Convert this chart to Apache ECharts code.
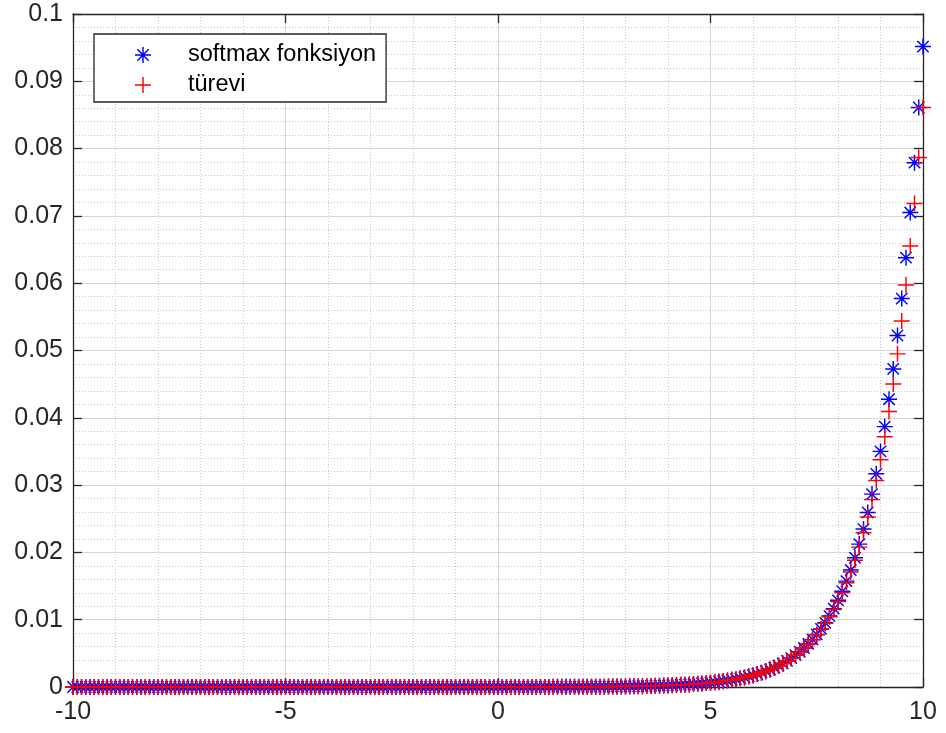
<!DOCTYPE html>
<html>
<head>
<meta charset="utf-8">
<script src="https://cdn.jsdelivr.net/npm/echarts@6/dist/echarts.min.js"></script>
<style>
html,body{margin:0;padding:0;background:#fff;}
#chart{width:946px;height:733px;}
</style>
</head>
<body>
<div id="chart"></div>
<script>
// x values (-10 .. 10, step 0.1)
var xValues = [
-10,-9.9,-9.8,-9.7,-9.6,-9.5,-9.4,-9.3,-9.2,-9.1,
-9,-8.9,-8.8,-8.7,-8.6,-8.5,-8.4,-8.3,-8.2,-8.1,
-8,-7.9,-7.8,-7.7,-7.6,-7.5,-7.4,-7.3,-7.2,-7.1,
-7,-6.9,-6.8,-6.7,-6.6,-6.5,-6.4,-6.3,-6.2,-6.1,
-6,-5.9,-5.8,-5.7,-5.6,-5.5,-5.4,-5.3,-5.2,-5.1,
-5,-4.9,-4.8,-4.7,-4.6,-4.5,-4.4,-4.3,-4.2,-4.1,
-4,-3.9,-3.8,-3.7,-3.6,-3.5,-3.4,-3.3,-3.2,-3.1,
-3,-2.9,-2.8,-2.7,-2.6,-2.5,-2.4,-2.3,-2.2,-2.1,
-2,-1.9,-1.8,-1.7,-1.6,-1.5,-1.4,-1.3,-1.2,-1.1,
-1,-0.9,-0.8,-0.7,-0.6,-0.5,-0.4,-0.3,-0.2,-0.1,
0,0.1,0.2,0.3,0.4,0.5,0.6,0.7,0.8,0.9,
1,1.1,1.2,1.3,1.4,1.5,1.6,1.7,1.8,1.9,
2,2.1,2.2,2.3,2.4,2.5,2.6,2.7,2.8,2.9,
3,3.1,3.2,3.3,3.4,3.5,3.6,3.7,3.8,3.9,
4,4.1,4.2,4.3,4.4,4.5,4.6,4.7,4.8,4.9,
5,5.1,5.2,5.3,5.4,5.5,5.6,5.7,5.8,5.9,
6,6.1,6.2,6.3,6.4,6.5,6.6,6.7,6.8,6.9,
7,7.1,7.2,7.3,7.4,7.5,7.6,7.7,7.8,7.9,
8,8.1,8.2,8.3,8.4,8.5,8.6,8.7,8.8,8.9,
9,9.1,9.2,9.3,9.4,9.5,9.6,9.7,9.8,9.9,
10
];

// softmax fonksiyon values
var softmaxValues = [
0,0,0,0,0,0,0,0,0,0,
0,0,0,0,0,0,0,0,0,0,
0,0,0,0,0,0,0,0,0,0,
0,0,0,0,0,0,0,0,0,0,
0,0,0,0,0,0,0,0,0,0,
0,0,0,0,0,0,0,0,0,0,
0,0,0,0,0,0,0,0,0,0,
0,0,0,0,0,0,0,0,0,0,
0,0,0,0,0,0,0,0,0,0,
0,0,0,0,0,0,0,0,0,0,
0,0,0.00001,0.00001,0.00001,0.00001,0.00001,0.00001,0.00001,0.00001,
0.00001,0.00001,0.00001,0.00002,0.00002,0.00002,0.00002,0.00002,0.00003,0.00003,
0.00003,0.00004,0.00004,0.00004,0.00005,0.00005,0.00006,0.00006,0.00007,0.00008,
0.00009,0.00010,0.00011,0.00012,0.00013,0.00014,0.00016,0.00017,0.00019,0.00021,
0.00024,0.00026,0.00029,0.00032,0.00035,0.00039,0.00043,0.00048,0.00053,0.00058,
0.00064,0.00071,0.00078,0.00087,0.00096,0.00106,0.00117,0.00129,0.00143,0.00158,
0.00174,0.00193,0.00213,0.00235,0.00260,0.00287,0.00318,0.00351,0.00388,0.00429,
0.00474,0.00524,0.00579,0.00640,0.00707,0.00781,0.00863,0.00954,0.01054,0.01165,
0.01288,0.01423,0.01573,0.01738,0.01921,0.02123,0.02347,0.02593,0.02866,0.03168,
0.03501,0.03869,0.04276,0.04726,0.05223,0.05772,0.06379,0.07050,0.07791,0.08611,
0.09516
];

// türevi values
var derivValues = [
0,0,0,0,0,0,0,0,0,0,
0,0,0,0,0,0,0,0,0,0,
0,0,0,0,0,0,0,0,0,0,
0,0,0,0,0,0,0,0,0,0,
0,0,0,0,0,0,0,0,0,0,
0,0,0,0,0,0,0,0,0,0,
0,0,0,0,0,0,0,0,0,0,
0,0,0,0,0,0,0,0,0,0,
0,0,0,0,0,0,0,0,0,0,
0,0,0,0,0,0,0,0,0,0,
0,0,0.00001,0.00001,0.00001,0.00001,0.00001,0.00001,0.00001,0.00001,
0.00001,0.00001,0.00001,0.00002,0.00002,0.00002,0.00002,0.00002,0.00003,0.00003,
0.00003,0.00004,0.00004,0.00004,0.00005,0.00005,0.00006,0.00006,0.00007,0.00008,
0.00009,0.00010,0.00011,0.00012,0.00013,0.00014,0.00016,0.00017,0.00019,0.00021,
0.00024,0.00026,0.00029,0.00032,0.00035,0.00039,0.00043,0.00048,0.00053,0.00058,
0.00064,0.00071,0.00078,0.00087,0.00096,0.00106,0.00117,0.00129,0.00142,0.00157,
0.00174,0.00192,0.00212,0.00235,0.00259,0.00287,0.00317,0.00350,0.00386,0.00427,
0.00472,0.00521,0.00575,0.00636,0.00702,0.00775,0.00856,0.00945,0.01043,0.01152,
0.01271,0.01403,0.01548,0.01708,0.01884,0.02078,0.02292,0.02526,0.02784,0.03067,
0.03378,0.03719,0.04093,0.04502,0.04950,0.05439,0.05972,0.06553,0.07184,0.07869,
0.08611
];

var seriesNames = ['softmax fonksiyon', 't\u00fcrevi'];
var xTickLabels = ['-10', '-5', '0', '5', '10'];
var yTickLabels = ['0','0.01','0.02','0.03','0.04','0.05','0.06','0.07','0.08','0.09','0.1'];

var FONT = '"Liberation Sans", Arial, Helvetica, sans-serif';
var AXC = '#262626';

var plusPath = 'path://M-1,-0.09L1,-0.09L1,0.09L-1,0.09ZM-0.09,-1L0.09,-1L0.09,1L-0.09,1Z';
var starPath = 'path://M-1,-0.09L1,-0.09L1,0.09L-1,0.09ZM-0.09,-1L0.09,-1L0.09,1L-0.09,1Z' +
  'M-0.6435,-0.7707L0.7707,0.6435L0.6435,0.7707L-0.7707,-0.6435Z' +
  'M-0.7707,0.6435L0.6435,-0.7707L0.7707,-0.6435L-0.6435,0.7707Z';

function pairs(xs, ys) {
  var out = [];
  for (var i = 0; i < xs.length; i++) out.push([xs[i], ys[i]]);
  return out;
}

var chart = echarts.init(document.getElementById('chart'), null, {renderer: 'canvas'});

var xLabelMap = {};
xTickLabels.forEach(function (t) { xLabelMap[Number(t)] = t; });
var yLabelMap = {};
yTickLabels.forEach(function (t) { yLabelMap[Number(t).toFixed(2)] = t; });

var option = {
  animation: false,
  backgroundColor: '#ffffff',
  grid: {left: 73, right: 23, top: 14, bottom: 46, containLabel: false},
  legend: {
    orient: 'vertical',
    left: 94,
    top: 34,
    padding: [9, 10, 5, 41],
    itemWidth: 80,
    itemHeight: 16,
    itemGap: 6,
    backgroundColor: '#ffffff',
    borderColor: AXC,
    borderWidth: 1.3,
    borderRadius: 0,
    symbolKeepAspect: true,
    textStyle: {fontFamily: FONT, fontSize: 23.5, color: '#000', lineHeight: 24},
    data: [
      {name: seriesNames[0], icon: starPath},
      {name: seriesNames[1], icon: plusPath}
    ]
  },
  xAxis: [{
    type: 'value', min: -10, max: 10, interval: 5,
    axisLine: {show: true, onZero: false, lineStyle: {color: AXC, width: 1.3}},
    axisTick: {show: true, inside: true, length: 9, lineStyle: {color: AXC, width: 1.3}},
    axisLabel: {show: true, margin: 13, fontFamily: FONT, fontSize: 25, color: AXC,
      formatter: function (v) { return xLabelMap[v] !== undefined ? xLabelMap[v] : String(v); }},
    splitLine: {show: true, lineStyle: {color: '#d6d6d6', width: 1}},
    minorTick: {show: false, splitNumber: 5},
    minorSplitLine: {show: true, lineStyle: {color: '#c8c8c8', width: 1, type: [1, 2]}}
  }, {
    type: 'value', min: -10, max: 10, interval: 5, position: 'top',
    axisLine: {show: true, onZero: false, lineStyle: {color: AXC, width: 1.3}},
    axisTick: {show: true, inside: true, length: 9, lineStyle: {color: AXC, width: 1.3}},
    axisLabel: {show: false},
    splitLine: {show: false}
  }],
  yAxis: [{
    type: 'value', min: 0, max: 0.1, interval: 0.01,
    axisLine: {show: true, onZero: false, lineStyle: {color: AXC, width: 1.3}},
    axisTick: {show: true, inside: true, length: 9, lineStyle: {color: AXC, width: 1.3}},
    axisLabel: {show: true, margin: 10, fontFamily: FONT, fontSize: 25, color: AXC,
      formatter: function (v) { var k = Number(v).toFixed(2); return yLabelMap[k] !== undefined ? yLabelMap[k] : String(v); }},
    splitLine: {show: true, lineStyle: {color: '#d6d6d6', width: 1}},
    minorTick: {show: false, splitNumber: 5},
    minorSplitLine: {show: true, lineStyle: {color: '#c8c8c8', width: 1, type: [1, 2]}}
  }, {
    type: 'value', min: 0, max: 0.1, interval: 0.01, position: 'right',
    axisLine: {show: true, onZero: false, lineStyle: {color: AXC, width: 1.3}},
    axisTick: {show: true, inside: true, length: 9, lineStyle: {color: AXC, width: 1.3}},
    axisLabel: {show: false},
    splitLine: {show: false}
  }],
  series: [{
    name: seriesNames[0],
    type: 'scatter',
    xAxisIndex: 0, yAxisIndex: 0,
    symbol: starPath,
    symbolSize: 16,
    clip: false,
    itemStyle: {color: '#0000ff', opacity: 1},
    emphasis: {disabled: true},
    data: pairs(xValues, softmaxValues)
  }, {
    name: seriesNames[1],
    type: 'scatter',
    xAxisIndex: 0, yAxisIndex: 0,
    symbol: plusPath,
    symbolSize: 16,
    clip: false,
    itemStyle: {color: '#ff0000', opacity: 1},
    emphasis: {disabled: true},
    data: pairs(xValues, derivValues)
  }]
};
chart.setOption(option);
</script>
</body>
</html>
